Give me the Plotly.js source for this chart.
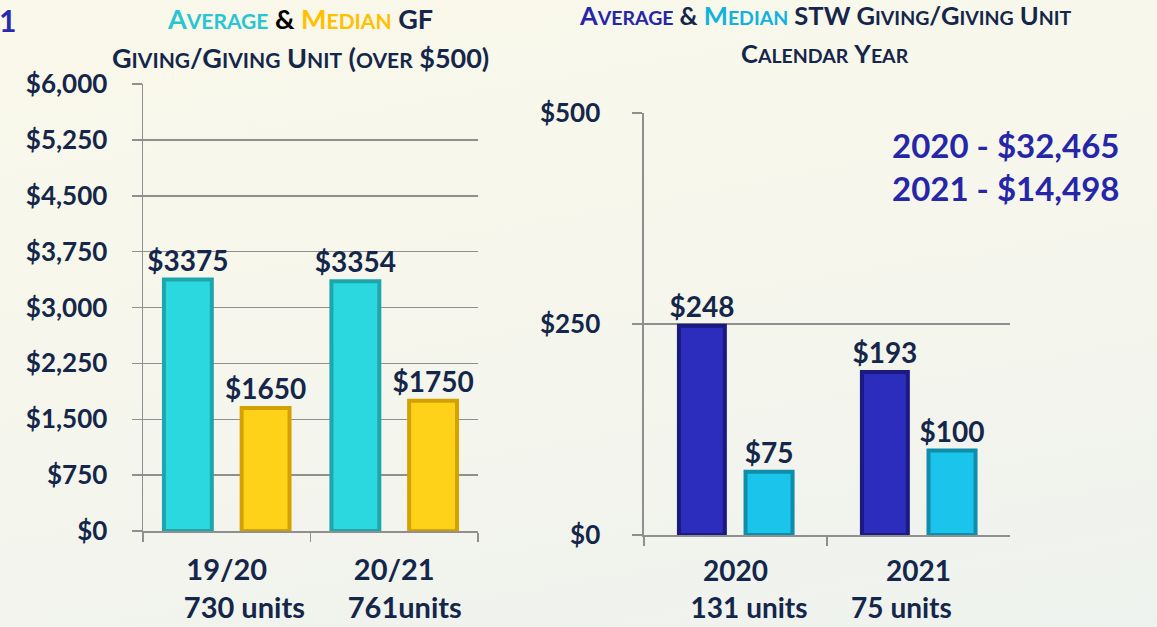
<!DOCTYPE html>
<html>
<head>
<meta charset="utf-8">
<script src="https://cdn.plot.ly/plotly-3.0.1.min.js"></script>
<style>
html,body{margin:0;padding:0;}
body{width:1157px;height:627px;background:linear-gradient(170deg,#f9f8ea 0%,#f6f6ec 45%,#eef2ee 100%);overflow:hidden;}
#chart{width:1157px;height:627px;}
</style>
</head>
<body>
<div id="chart"></div>
<script>
// ---- data ----
const gfCategories = ['19/20', '20/21'];
const gfUnits = ['730 units', '761units'];
const gfAverage = [3375, 3354];
const gfMedian = [1650, 1750];

const stwCategories = ['2020', '2021'];
const stwUnits = ['131 units', '75 units'];
const stwAverage = [248, 193];
const stwMedian = [75, 100];

const stwTotals = ['2020 - $32,465', '2021 - $14,498'];
const gfTickValues = [0, 750, 1500, 2250, 3000, 3750, 4500, 5250, 6000];
const stwTickValues = [0, 250, 500];

// ---- style ----
const NAVY = '#14264a';
const FONT = 'Lato, "Open Sans", "Liberation Sans", sans-serif';
const NB = '\u00a0';

function big(t, size) { return '<span style="font-size:' + size + 'px">' + t + '</span>'; }
function sc(word, B, S) { return big(word.charAt(0), B) + big(word.slice(1).toUpperCase(), S); }
function col(t, c) { return '<span style="color:' + c + '">' + t + '</span>'; }
function money(v) { return '$' + v.toLocaleString('en-US'); }

// two-line category labels; the second line is nudged sideways as in the original
function catLabels(cats, units, pads) {
  return cats.map((c, i) => {
    const p = pads[i];
    const u = p >= 0 ? NB.repeat(p) + units[i] : units[i] + NB.repeat(-p);
    return c + '<br>' + u;
  });
}

function bar(x, y, xa, ya, fill, edge, offset, width) {
  return {
    type: 'bar', x: x, y: y, xaxis: xa, yaxis: ya,
    offset: offset, width: width,
    marker: {color: fill, line: {color: edge, width: 4}},
    text: y.map(v => '$' + v), textposition: 'outside', constraintext: 'none',
    cliponaxis: false,
    textfont: {family: FONT, size: 28, color: NAVY, weight: 'bold'},
    hoverinfo: 'skip', showlegend: false
  };
}

const data = [
  bar(gfCategories, gfAverage, 'x', 'y', '#2bd8e0', '#1ea6ad', -0.375, 0.286),
  bar(gfCategories, gfMedian, 'x', 'y', '#ffd21a', '#d4a200', 0.089, 0.286),
  bar(stwCategories, stwAverage, 'x2', 'y2', '#2c2cbd', '#1a1a80', -0.309, 0.251),
  bar(stwCategories, stwMedian, 'x2', 'y2', '#1ac4ea', '#0f8dab', 0.055, 0.257)
];

const axisFont = {family: FONT, size: 26, color: NAVY, weight: 'bold'};
const catFont = {family: FONT, size: 29, color: NAVY, weight: 'bold'};
const GRID = '#8f8f8f';

const layout = {
  width: 1157, height: 627,
  margin: {l: 0, r: 0, t: 0, b: 0},
  paper_bgcolor: 'rgba(0,0,0,0)', plot_bgcolor: 'rgba(0,0,0,0)',
  barmode: 'overlay',
  font: {family: FONT, color: NAVY},
  xaxis: {
    domain: [0.1236, 0.4131], type: 'category', tickson: 'boundaries',
    tickmode: 'array', tickvals: gfCategories, ticktext: catLabels(gfCategories, gfUnits, [5, 3]),
    ticks: 'outside', ticklen: 9, tickcolor: GRID, tickwidth: 1.5,
    showline: true, linecolor: GRID, linewidth: 1.5, showgrid: false,
    tickfont: catFont, ticklabelstandoff: 13, fixedrange: true
  },
  yaxis: {
    domain: [0.1531, 0.866], range: [0, 6000],
    tickmode: 'array', tickvals: gfTickValues, ticktext: gfTickValues.map(money),
    ticks: 'outside', ticklen: 10, tickcolor: GRID, tickwidth: 1.5,
    showline: true, linecolor: GRID, linewidth: 1.5,
    showgrid: true, gridcolor: GRID, gridwidth: 1.5, zeroline: false,
    tickfont: axisFont, ticklabelstandoff: 19, fixedrange: true
  },
  xaxis2: {
    domain: [0.5566, 0.8729], type: 'category', tickson: 'boundaries', anchor: 'y2',
    tickmode: 'array', tickvals: stwCategories, ticktext: catLabels(stwCategories, stwUnits, [4, -5]),
    ticks: 'outside', ticklen: 9, tickcolor: GRID, tickwidth: 1.5,
    showline: true, linecolor: GRID, linewidth: 1.5, showgrid: false,
    tickfont: {family: FONT, size: 28, color: NAVY, weight: 'bold'}, ticklabelstandoff: 11, fixedrange: true
  },
  yaxis2: {
    domain: [0.1467, 0.8198], range: [0, 500], anchor: 'x2',
    tickmode: 'array', tickvals: stwTickValues, ticktext: stwTickValues.map(money),
    ticks: 'outside', ticklen: 10, tickcolor: GRID, tickwidth: 1.5,
    showline: true, linecolor: GRID, linewidth: 1.5,
    showgrid: true, gridcolor: GRID, gridwidth: 1.5, zeroline: false,
    tickfont: axisFont, ticklabelstandoff: 27, fixedrange: true
  },
  annotations: [
    {xref: 'paper', yref: 'paper', x: 300 / 1157, y: 1 - 18 / 627, xanchor: 'center', yanchor: 'middle', showarrow: false,
     font: {family: FONT, size: 27, color: NAVY, weight: 'bold'},
     text: '<b>' + col(sc('Average', 27, 21), '#27c6d2') + ' ' + col('&amp;', '#000') + ' ' + col(sc('Median', 27, 21), '#ffc000') + ' ' + col(big('GF', 27), NAVY) + '</b>'},
    {xref: 'paper', yref: 'paper', x: 300 / 1157, y: 1 - 58 / 627, xanchor: 'center', yanchor: 'middle', showarrow: false,
     font: {family: FONT, size: 27, color: NAVY, weight: 'bold'},
     text: '<b>' + sc('Giving', 27, 21) + big('/', 27) + sc('Giving', 27, 21) + ' ' + sc('Unit', 27, 21) + ' ' + big('(', 27) + big('OVER', 21) + ' ' + big('$500)', 27) + '</b>'},
    {xref: 'paper', yref: 'paper', x: 825 / 1157, y: 1 - 15 / 627, xanchor: 'center', yanchor: 'middle', showarrow: false,
     font: {family: FONT, size: 25, color: NAVY, weight: 'bold'},
     text: '<b>' + col(sc('Average', 25.5, 19.5), '#2626a8') + ' ' + col('&amp;', NAVY) + ' ' + col(sc('Median', 25.5, 19.5), '#12b2de') + ' ' + col(big('STW', 25.5) + ' ' + sc('Giving', 25.5, 19.5) + big('/', 25.5) + sc('Giving', 25.5, 19.5) + ' ' + sc('Unit', 25.5, 19.5), NAVY) + '</b>'},
    {xref: 'paper', yref: 'paper', x: 825 / 1157, y: 1 - 53 / 627, xanchor: 'center', yanchor: 'middle', showarrow: false,
     font: {family: FONT, size: 25, color: NAVY, weight: 'bold'},
     text: '<b>' + sc('Calendar', 25.5, 19.5) + ' ' + sc('Year', 25.5, 19.5) + '</b>'},
    {xref: 'paper', yref: 'paper', x: 1121 / 1157, y: 1 - 145 / 627, xanchor: 'right', yanchor: 'middle', showarrow: false,
     font: {family: FONT, size: 33, color: '#2626a8', weight: 'bold'}, text: '<b>' + stwTotals[0] + '</b>'},
    {xref: 'paper', yref: 'paper', x: 1121 / 1157, y: 1 - 188 / 627, xanchor: 'right', yanchor: 'middle', showarrow: false,
     font: {family: FONT, size: 33, color: '#2626a8', weight: 'bold'}, text: '<b>' + stwTotals[1] + '</b>'},
    {xref: 'paper', yref: 'paper', x: 18 / 1157, y: 1, xanchor: 'right', yanchor: 'top', showarrow: false,
     font: {family: FONT, size: 30, color: '#2a2ab0', weight: 'bold'}, text: '<b>1</b>'}
  ]
};

Plotly.newPlot('chart', data, layout, {staticPlot: true, displayModeBar: false});
</script>
</body>
</html>
